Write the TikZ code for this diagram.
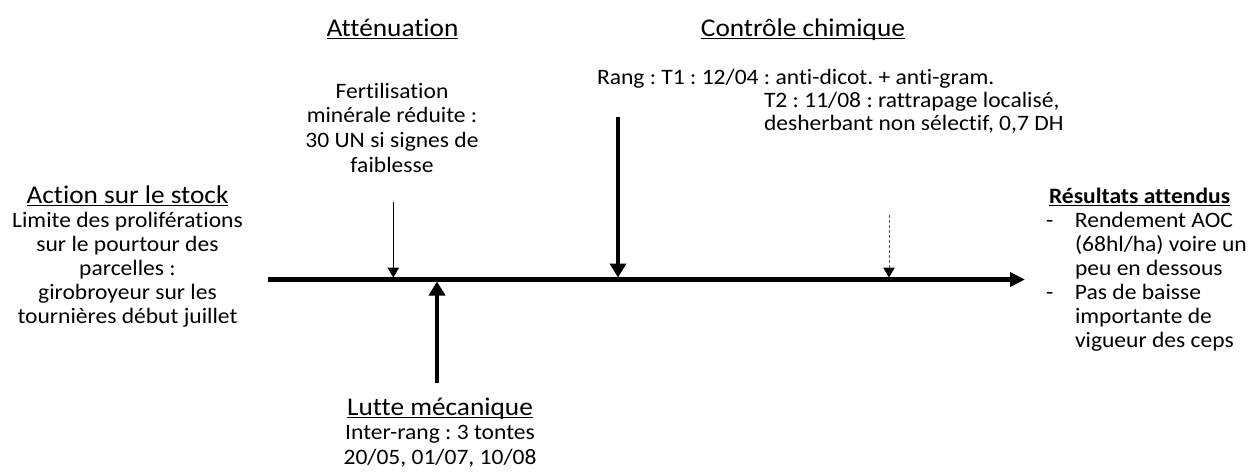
\documentclass[tikz,border=0pt]{standalone}
\usepackage{fontspec}
\setmainfont[FakeStretch=1.07,Ligatures={NoCommon}]{Carlito}
\usetikzlibrary{arrows.meta}
\frenchspacing
\newcommand{\fsz}{\fontsize{22}{24}\selectfont}
\newcommand{\fszb}{\fontsize{22}{24.7}\selectfont}
\newcommand{\fszc}{\fontsize{22}{23.3}\selectfont}
\newcommand{\topstrut}{\rule{0pt}{25pt}}
\newcommand{\uln}[1]{\setbox0\hbox{#1}\rlap{\rule[-3.2pt]{\wd0}{1.2pt}}\box0}
\newcommand{\ttl}[1]{{\fontsize{25.5}{24}\selectfont\uln{#1}}}
\begin{document}
\begin{tikzpicture}[x=1pt,y=-1pt,
  txt/.style={inner sep=0pt, outer sep=0pt, align=center, font=\fsz, anchor=north},
  txtb/.style={txt, font=\fszb},
  txtl/.style={inner sep=0pt, outer sep=0pt, align=left, font=\fsz, anchor=north west},
  axisline/.style={line width=4.8pt, -{Triangle[length=15pt,width=14pt]}},
  bigarrow/.style={line width=4.4pt, -{Triangle[length=14pt,width=16pt]}},
  thinarrow/.style={line width=1pt, -{Triangle[length=10pt,width=11.5pt]}},
  dasharrow/.style={line width=1pt, dash pattern=on 3pt off 2pt, draw=black!65, -{Triangle[length=10pt,width=11.5pt,color=black]}}
]
\useasboundingbox (0,0) rectangle (1253,475);

% texts
\node[txt] (stock) at (127.5,178) {\topstrut\ttl{Action sur le stock}\\Limite des proliférations\\sur le pourtour des\\parcelles :\\girobroyeur sur les\\tournières début juillet};
\node[txt] (attn) at (392.5,11) {\topstrut\ttl{Atténuation}};
\node[txtb] (fert) at (392,73) {\topstrut Fertilisation\\minérale réduite :\\30 UN si signes de\\faiblesse};
\node[txt] (chim) at (803,11) {\topstrut\ttl{Contrôle chimique}};
\node[txtl] (rang) at (597,59) {\topstrut Rang : T1 : 12/04 : anti-dicot. + anti-gram.};
\node[txtl, font=\fszc] (t2) at (764,82) {\topstrut T2 : 11/08 : rattrapage localisé,\\desherbant non sélectif, 0,7 DH};
\node[txtl] (res) at (1049,178) {\topstrut\uln{\bfseries Résultats attendus}};
\node[txtl] (list) at (1046,202) {\topstrut\makebox[29pt][l]{-}Rendement AOC\\\hspace*{29pt}(68hl/ha) voire un\\\hspace*{29pt}peu en dessous\\\makebox[29pt][l]{-}Pas de baisse\\\hspace*{29pt}importante de\\\hspace*{29pt}vigueur des ceps};
\node[txtb] (lutte) at (440,390) {\topstrut\ttl{Lutte mécanique}\\Inter-rang : 3 tontes\\20/05, 01/07, 10/08};

% axis
\coordinate (axL) at (268,279.5);
\coordinate (axR) at (1025,279.5);
\draw[axisline] (axL) -- (axR);

% arrows
\coordinate (f0) at (393.3,202);
\coordinate (f1) at (393.3,277.5);
\draw[thinarrow] (f0) -- (f1);
\coordinate (c0) at (618,117);
\coordinate (c1) at (618,277.5);
\draw[bigarrow] (c0) -- (c1);
\coordinate (m0) at (437,383);
\coordinate (m1) at (437,281.5);
\draw[bigarrow] (m0) -- (m1);
\coordinate (d0) at (889,215);
\coordinate (d1) at (889,277.5);
\draw[dasharrow] (d0) -- (d1);
\end{tikzpicture}
\end{document}
